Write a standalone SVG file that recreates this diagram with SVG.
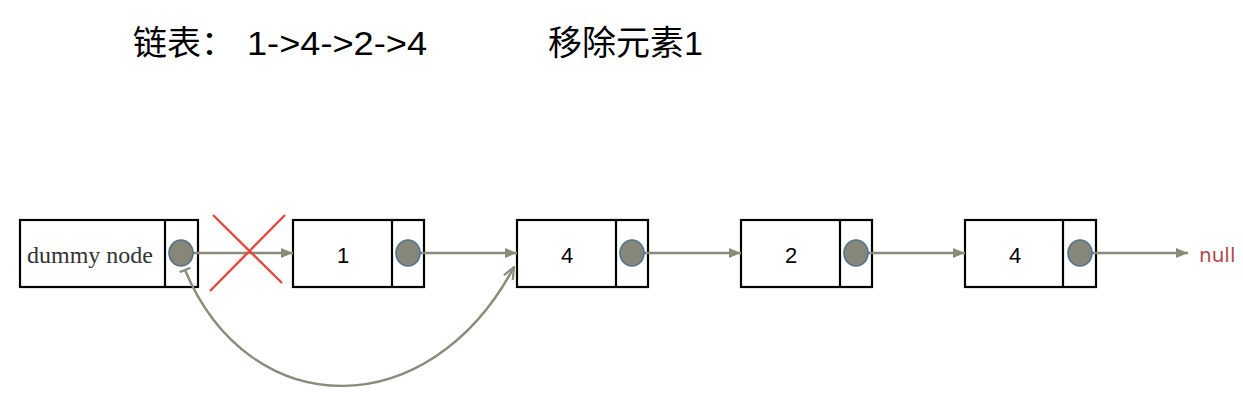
<svg xmlns="http://www.w3.org/2000/svg" width="1243" height="401" viewBox="0 0 1243 401">
<style>
.box{fill:#fff;stroke:#000;stroke-width:2.2}
.dot{fill:#868778;stroke:#56708f;stroke-width:1.6}
.lnk{stroke:#898b7b;stroke-width:2.4;fill:none}
.num{font-family:"Liberation Sans",Arial,sans-serif;font-size:22px;fill:#000;text-anchor:middle}
.title{font-family:"Liberation Sans","Noto Sans CJK SC",sans-serif;font-size:34px;fill:#000}
.x{stroke:#e8453c;stroke-width:2.4}
</style>
<defs>
<marker id="tri" viewBox="0 0 12 10" refX="12" refY="5" markerWidth="12" markerHeight="10" markerUnits="userSpaceOnUse" orient="auto">
<path d="M0,0 L12,5 L0,10 Z" fill="#898b7b"/>
</marker>
<marker id="vee" viewBox="0 0 14 12" refX="13" refY="6" markerWidth="14" markerHeight="12" markerUnits="userSpaceOnUse" orient="auto">
<path d="M1,1 L13,6 L1,11" fill="none" stroke="#898b7b" stroke-width="2.2"/>
</marker>
<marker id="bar" viewBox="0 0 4 12" refX="2" refY="6" markerWidth="4" markerHeight="12" markerUnits="userSpaceOnUse" orient="auto">
<path d="M2,0 L2,12" stroke="#898b7b" stroke-width="2.2"/>
</marker>
</defs>
<rect width="1243" height="401" fill="#fff"/>
<g id="title">
<text class="title" x="133" y="55">链表：</text>
<text class="title" x="247" y="55" textLength="180" lengthAdjust="spacingAndGlyphs">1-&gt;4-&gt;2-&gt;4</text>
<text class="title" x="548" y="55">移除元素1</text>
</g>
<g id="node-dummy">
<rect class="box" x="20" y="220" width="178" height="67"/>
<line class="box" x1="165" y1="220" x2="165" y2="287"/>
<text x="27" y="263" font-family="Liberation Serif,'Times New Roman',serif" font-size="24" fill="#333">dummy node</text>
</g>
<g id="node-1">
<rect class="box" x="293" y="220" width="131" height="67"/>
<line class="box" x1="392" y1="220" x2="392" y2="287"/>
<text class="num" x="343" y="263">1</text>
</g>
<g id="node-4a">
<rect class="box" x="517" y="220" width="131" height="67"/>
<line class="box" x1="616" y1="220" x2="616" y2="287"/>
<text class="num" x="567" y="263">4</text>
</g>
<g id="node-2">
<rect class="box" x="741" y="220" width="131" height="67"/>
<line class="box" x1="840" y1="220" x2="840" y2="287"/>
<text class="num" x="791" y="263">2</text>
</g>
<g id="node-4b">
<rect class="box" x="965" y="220" width="131" height="67"/>
<line class="box" x1="1063" y1="220" x2="1063" y2="287"/>
<text class="num" x="1015" y="263">4</text>
</g>
<g id="null">
<text x="1199" y="262" font-family="'DejaVu Sans',Verdana,sans-serif" font-size="20" fill="#b5474d">null</text>
</g>
<g id="connectors">
<line class="lnk" x1="193" y1="253" x2="293" y2="253" marker-end="url(#tri)"/>
<line class="lnk" x1="420" y1="253" x2="517" y2="253" marker-end="url(#tri)"/>
<line class="lnk" x1="644" y1="253" x2="741" y2="253" marker-end="url(#tri)"/>
<line class="lnk" x1="868" y1="253" x2="965" y2="253" marker-end="url(#tri)"/>
<line class="lnk" x1="1092" y1="253" x2="1188" y2="253" marker-end="url(#tri)"/>
<path class="lnk" d="M185,270 C250,425 430,425 514,267" marker-start="url(#bar)" marker-end="url(#vee)"/>
</g>
<g id="pointers">
<ellipse class="dot" cx="181" cy="253" rx="12" ry="13"/>
<ellipse class="dot" cx="408" cy="253" rx="12" ry="13"/>
<ellipse class="dot" cx="632" cy="253" rx="12" ry="13"/>
<ellipse class="dot" cx="856" cy="253" rx="12" ry="13"/>
<ellipse class="dot" cx="1080" cy="253" rx="12" ry="13"/>
</g>
<g id="cross">
<line class="x" x1="213" y1="215" x2="282" y2="283"/>
<line class="x" x1="285" y1="215" x2="210" y2="291"/>
</g>
</svg>
